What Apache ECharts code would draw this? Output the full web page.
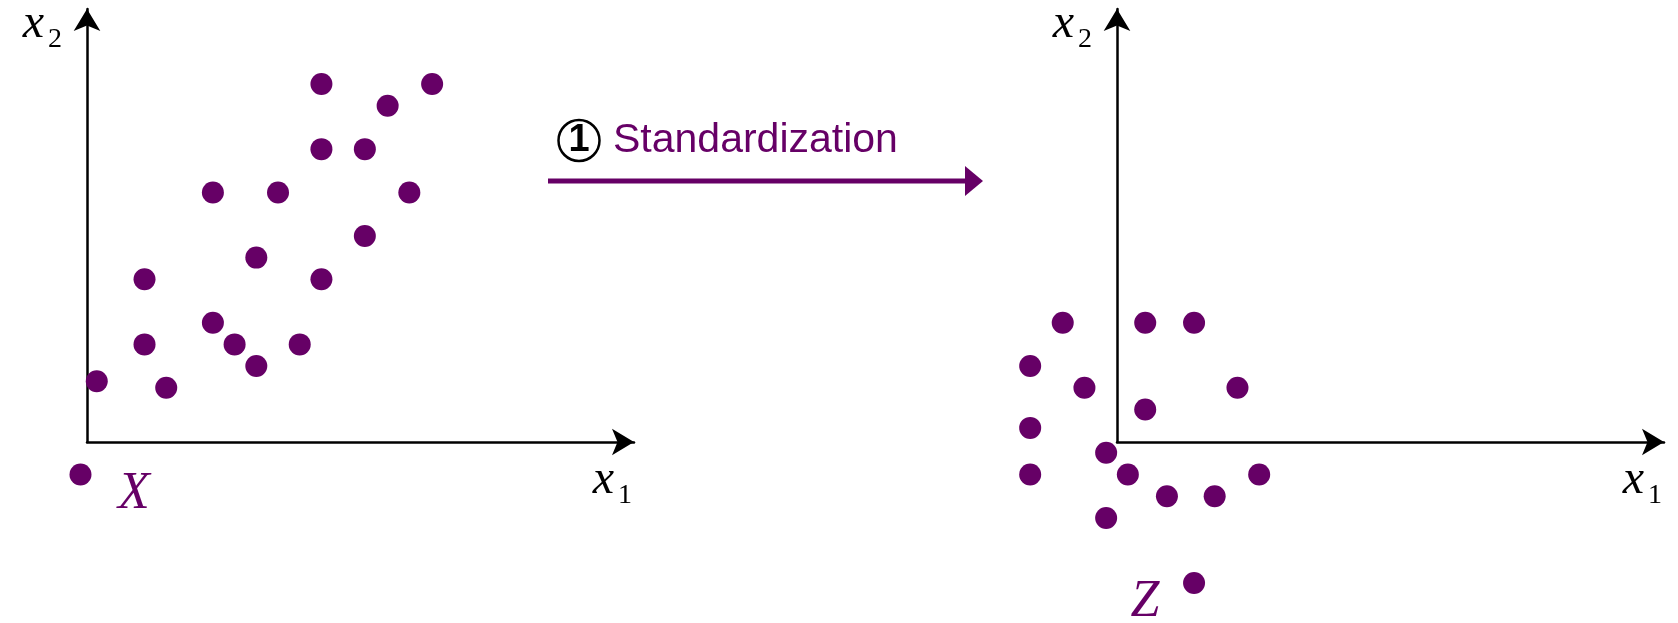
<!DOCTYPE html>
<html>

<head>
	<meta charset="UTF-8">
	<title></title>
	<style>
		html,
		body {
			margin: 0;
			padding: 0;
			background: #fff;
		}

		#chart {
			width: 1678px;
			height: 623px;
		}
	</style>
	<script src="https://cdn.jsdelivr.net/npm/echarts@6/dist/echarts.min.js"></script>
</head>

<body>
	<div id="chart"></div>
	<script>
		// 原始数据 X (x1, x2)
		var X1 = [10.8, 15.9, 13.85, 10.8, 12.8, 5.8, 8.8, 14.85, 12.8, 7.8, 2.65, 10.8, 5.8, 2.65, 6.8, 9.8, 7.8, 0.45, 3.65, -0.3];
		var X2 = [16.5, 16.5, 15.5, 13.5, 13.5, 11.5, 11.5, 11.5, 9.5, 8.5, 7.5, 7.5, 5.5, 4.5, 4.5, 4.5, 3.5, 2.8, 2.5, -1.5];

		// 标准化之后 Z (z1, z2)
		var Z1 = [-2.5, 1.3, 3.55, -4.0, -1.5, 5.55, 1.3, -4.0, -0.5, -4.0, 0.5, 6.55, 2.3, 4.5, -0.5, 3.55];
		var Z2 = [5.5, 5.5, 5.5, 3.5, 2.5, 2.5, 1.5, 0.65, -0.5, -1.5, -1.5, -1.5, -2.5, -2.5, -3.5, -6.5];

		var PURPLE = '#660066';

		function pairs(xs, ys) {
			return xs.map(function (x, i) { return [x, ys[i]]; });
		}

		var nameRich = {
			v: { fontFamily: 'Liberation Serif', fontStyle: 'italic', fontSize: 48, lineHeight: 48, color: '#000' },
			s: { fontFamily: 'Liberation Serif', fontSize: 28, lineHeight: 48, padding: [32, 0, 0, 4], color: '#000' }
		};

		// 箭头的尖端就在轴线的末端
		function xAxisOf(gridIndex) {
			return {
				type: 'value', gridIndex: gridIndex, min: 0, max: 25.2,
				name: '{v|x}{s|1}', nameLocation: 'end', nameGap: -2,
				nameTextStyle: { align: 'right', verticalAlign: 'top', padding: [14, 0, 0, 0], rich: nameRich },
				axisLine: { show: true, onZero: false, symbol: ['none', 'arrow'], symbolSize: [20, 22], lineStyle: { color: '#000', width: 2.5 } },
				axisTick: { show: false }, axisLabel: { show: false }, splitLine: { show: false }
			};
		}

		function yAxisOf(gridIndex) {
			return {
				type: 'value', gridIndex: gridIndex, min: 0, max: 19.96,
				name: '{v|x}{s|2}', nameLocation: 'end', nameGap: -15,
				nameTextStyle: { align: 'right', verticalAlign: 'middle', padding: [0, 25, 0, 0], rich: nameRich },
				axisLine: { show: true, onZero: false, symbol: ['none', 'arrow'], symbolSize: [20, 22], lineStyle: { color: '#000', width: 2.5 } },
				axisTick: { show: false }, axisLabel: { show: false }, splitLine: { show: false }
			};
		}

		var myChart = echarts.init(document.getElementById('chart'));
		myChart.setOption({
			animation: false,
			grid: [
				{ left: 87, top: 9, width: 547, height: 433, outerBoundsMode: 'none' },
				{ left: 1117, top: 9, width: 547, height: 433, outerBoundsMode: 'none' }
			],
			xAxis: [xAxisOf(0), xAxisOf(1)],
			yAxis: [yAxisOf(0), yAxisOf(1)],
			series: [
				{
					type: 'scatter', xAxisIndex: 0, yAxisIndex: 0, clip: false, silent: true,
					symbolSize: 22, itemStyle: { color: PURPLE, opacity: 1 },
					data: pairs(X1, X2)
				},
				{
					type: 'scatter', xAxisIndex: 1, yAxisIndex: 1, clip: false, silent: true,
					symbolSize: 22, itemStyle: { color: PURPLE, opacity: 1 },
					data: pairs(Z1, Z2)
				}
			],
			graphic: [
				// 中间的箭头和说明文字
				{ type: 'line', shape: { x1: 548, y1: 181, x2: 968, y2: 181 }, style: { stroke: PURPLE, lineWidth: 5 } },
				{ type: 'polygon', shape: { points: [[965, 166], [983, 181], [965, 196]] }, style: { fill: PURPLE } },
				{ type: 'circle', shape: { cx: 579, cy: 140.5, r: 20.5 }, style: { fill: 'none', stroke: '#000', lineWidth: 2.5 } },
				{
					type: 'text', x: 579, y: 141,
					style: { text: '1', font: 'bold 38px "Liberation Sans"', fill: '#000', align: 'center', verticalAlign: 'middle' }
				},
				{
					type: 'text', x: 613, y: 141,
					style: { text: 'Standardization', font: '41px "Liberation Sans"', fill: PURPLE, align: 'left', verticalAlign: 'middle' }
				},
				// 数据集名称
				{
					type: 'text', x: 134, y: 494,
					style: { text: 'X', font: 'italic 52px "Liberation Serif"', fill: PURPLE, align: 'center', verticalAlign: 'middle' }
				},
				{
					type: 'text', x: 1145, y: 602,
					style: { text: 'Z', font: 'italic 52px "Liberation Serif"', fill: PURPLE, align: 'center', verticalAlign: 'middle' }
				}
			]
		});
	</script>
</body>

</html>
